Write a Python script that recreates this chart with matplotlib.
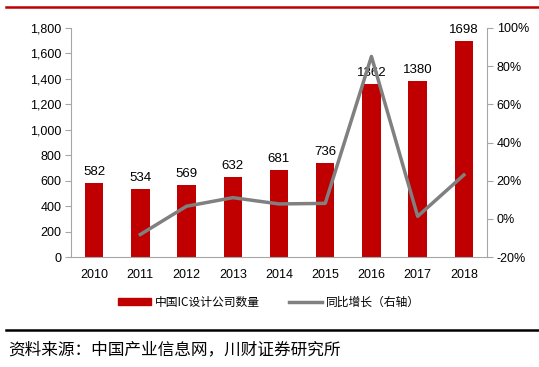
import matplotlib.pyplot as plt
from matplotlib.lines import Line2D
from matplotlib.patches import Patch
from matplotlib.ticker import FuncFormatter

plt.rcParams['font.family'] = ['Liberation Sans', 'Noto Sans CJK SC', 'DejaVu Sans']

years = ['2010', '2011', '2012', '2013', '2014', '2015', '2016', '2017', '2018']
companies = [582, 534, 569, 632, 681, 736, 1362, 1380, 1698]
growth = [None, -8.2, 6.6, 11.1, 7.8, 8.1, 85.1, 1.3, 23.0]

bar_color = '#C00000'
line_color = '#808080'
axis_color = '#A6A6A6'

fig = plt.figure(figsize=(5.39, 3.67), dpi=100)
ax = fig.add_axes([71 / 539, 1 - 257 / 367, 416 / 539, 229 / 367])
x = list(range(len(years)))

ax.bar(x, companies, width=0.4, color=bar_color, zorder=2)
for xi, v in zip(x, companies):
    ax.text(xi, v + 40, str(v), ha='center', va='bottom', fontsize=9.5, zorder=4)

ax.set_xlim(-0.5, len(years) - 0.5)
ax.set_ylim(0, 1800)
ax.set_yticks(range(0, 1801, 200))
ax.yaxis.set_major_formatter(FuncFormatter(lambda v, p: f'{int(v):,}'))
ax.set_xticks(x)
ax.set_xticklabels(years)
ax.tick_params(axis='x', length=0, pad=9, labelsize=9)
ax.tick_params(axis='y', length=4, color=axis_color, labelsize=9, pad=3)
for side in ['top', 'right']:
    ax.spines[side].set_visible(False)
for side in ['left', 'bottom']:
    ax.spines[side].set_color(axis_color)

ax2 = ax.twinx()
gx = [xi for xi, g in zip(x, growth) if g is not None]
gy = [g for g in growth if g is not None]
ax2.plot(gx, gy, color=line_color, linewidth=2.5, zorder=3)
ax2.set_ylim(-20, 100)
ax2.set_yticks(range(-20, 101, 20))
ax2.yaxis.set_major_formatter(FuncFormatter(lambda v, p: f'{int(v)}%'))
ax2.tick_params(axis='y', length=4, color=axis_color, labelsize=9, pad=3)
for side in ['top', 'left', 'bottom']:
    ax2.spines[side].set_visible(False)
ax2.spines['right'].set_color(axis_color)

handles = [Patch(color=bar_color), Line2D([0], [0], color=line_color, linewidth=2.5)]
labels = ['中国IC设计公司数量', '同比增长（右轴）']
fig.legend(handles, labels, loc='center', bbox_to_anchor=(269 / 539, 1 - 302 / 367),
           ncol=2, frameon=False, prop={'family': ['Noto Sans CJK SC'], 'size': 8.5},
           handlelength=2.8, handleheight=0.5, columnspacing=2.5, handletextpad=0.3)

fig.add_artist(Line2D([6 / 539, 1], [1 - 7 / 367] * 2, color=bar_color, linewidth=1.8))
fig.add_artist(Line2D([6 / 539, 1], [1 - 330 / 367] * 2, color='black', linewidth=1.8))
fig.text(8 / 539, 1 - 350 / 367, '资料来源：中国产业信息网，川财证券研究所', ha='left', va='center',
         fontsize=12, family=['Noto Sans CJK SC'], style='italic')

fig.savefig('out.png', dpi=100)
